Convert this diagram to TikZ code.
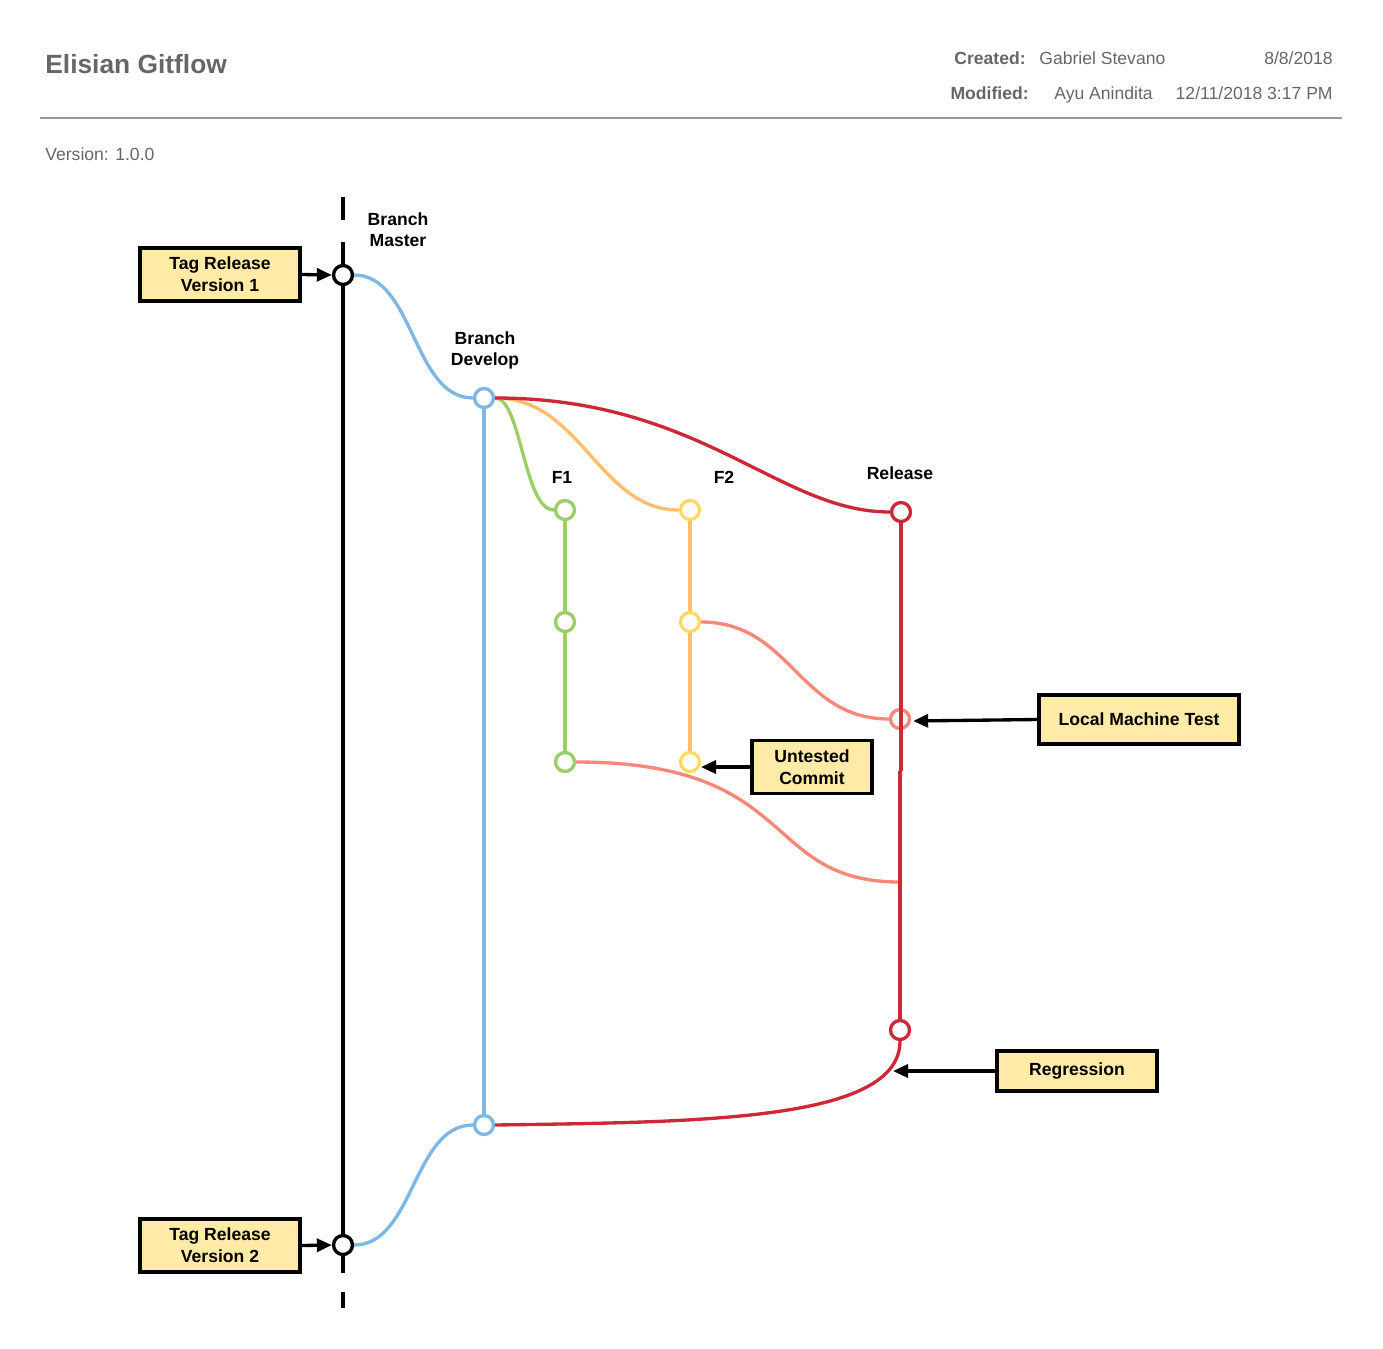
\documentclass[tikz,border=0pt]{standalone}
\usepackage{fontspec}
\setmainfont{Liberation Sans}
\usetikzlibrary{arrows.meta}
\definecolor{cblue}{RGB}{125,183,229}
\definecolor{cgreen}{RGB}{155,205,105}
\definecolor{cyel}{RGB}{255,217,102}
\definecolor{corange}{RGB}{255,190,110}
\definecolor{cred}{RGB}{204,40,55}
\definecolor{csalmon}{RGB}{250,135,120}
\definecolor{cbox}{RGB}{255,234,168}
\definecolor{cgray}{RGB}{102,102,102}
\definecolor{crule}{RGB}{153,153,153}
\tikzset{
  commit/.style={circle, draw=#1, line width=1.9pt, fill=white, inner sep=0pt, minimum size=0.38cm},
  tagbox/.style={rectangle, draw=black, line width=1.9pt, fill=cbox, align=center, font=\bfseries, inner sep=0pt},
  lbl/.style={align=center, font=\bfseries, inner sep=0pt},
  hdr/.style={text=cgray, inner sep=0pt},
  arr/.style={line width=1.9pt, -{Triangle[length=0.3cm,width=0.26cm]}},
  branchline/.style={line width=1.9pt, draw=#1},
}
\begin{document}
\begin{tikzpicture}[x=0.02cm, y=-0.02cm, every node/.style={font=\fontsize{10}{12.5}\selectfont}]
\useasboundingbox (0,0) rectangle (1383,1349);
% header
\node[hdr, anchor=base west, font=\fontsize{15}{18}\selectfont\bfseries] (title) at (45,73.5) {Elisian Gitflow};
\node[hdr, anchor=base east, font=\fontsize{10}{12}\selectfont\bfseries] (created) at (1026,64) {Created:};
\node[hdr, anchor=base west] (creator) at (1039,64) {Gabriel Stevano};
\node[hdr, anchor=base east] (cdate) at (1333,64) {8/8/2018};
\node[hdr, anchor=base east, font=\fontsize{10}{12}\selectfont\bfseries] (modified) at (1029,99) {Modified:};
\node[hdr, anchor=base west] (modifier) at (1054,99) {Ayu Anindita};
\node[hdr, anchor=base east] (mdate) at (1333,99) {12/11/2018 3:17 PM};
\coordinate (ruleL) at (40,118);
\coordinate (ruleR) at (1342,118);
\draw[crule, line width=1.3pt] (ruleL) -- (ruleR);
\node[hdr, anchor=base west] (version) at (45,160) {Version: 1.0.0};

% master line
\coordinate (mdA) at (343,197);
\coordinate (mdB) at (343,220);
\coordinate (msA) at (343,242);
\coordinate (msB) at (343,1273);
\coordinate (mdC) at (343,1292);
\coordinate (mdD) at (343,1308);
\draw[branchline=black] (mdA) -- (mdB);
\draw[branchline=black] (msA) -- (msB);
\draw[branchline=black] (mdC) -- (mdD);

% commits
\node[commit=black] (m1) at (343,275) {};
\node[commit=black] (m2) at (343,1245) {};
\node[commit=cblue] (d1) at (484,398) {};
\node[commit=cblue] (d2) at (484,1125) {};
\node[commit=cgreen] (f1a) at (565,510) {};
\node[commit=cgreen] (f1b) at (565,622) {};
\node[commit=cgreen] (f1c) at (565,762) {};
\node[commit=cyel] (f2a) at (690,510) {};
\node[commit=cyel] (f2b) at (690,622) {};
\node[commit=cyel] (f2c) at (690,762) {};
\node[commit=cred] (r1) at (901,512) {};
\node[commit=csalmon] (r2) at (900,719) {};
\node[commit=cred] (r3) at (900,1030) {};
\coordinate (rbreakA) at (901,771);
\coordinate (rbreakB) at (900,771);
\coordinate (rjoin) at (900,882);
\coordinate (regtip) at (893,1071);
\coordinate (uttip) at (701,767);

% labels
\node[lbl] (lmaster) at (398,230) {Branch\\Master};
\node[lbl] (ldevelop) at (485,350) {Branch\\Develop};
\node[lbl] (lf1) at (562,477) {F1};
\node[lbl] (lf2) at (724,477) {F2};
\node[lbl] (lrel) at (900,473) {Release};

% branch lines
\draw[branchline=cblue] (m1.east) .. controls +(60,0) and +(-60,0) .. (d1.west);
\draw[branchline=cblue] (m2.east) .. controls +(60,0) and +(-60,0) .. (d2.west);
\draw[branchline=cblue] (d1.south) -- (d2.north);
\draw[branchline=cgreen] (d1.east) .. controls +(26,0) and +(-30,0) .. (f1a.west);
\draw[branchline=cgreen] (f1a.south) -- (f1b.north);
\draw[branchline=cgreen] (f1b.south) -- (f1c.north);
\draw[branchline=corange] (d1.east) .. controls +(86,0) and +(-80,0) .. (f2a.west);
\draw[branchline=corange] (f2a.south) -- (f2b.north);
\draw[branchline=corange] (f2b.south) -- (f2c.north);
\draw[branchline=cred] (d1.east) .. controls +(206,0) and +(-111,0) .. (r1.west);
\draw[branchline=csalmon] (f2b.east) .. controls +(90,0) and +(-90,0) .. (r2.west);
\draw[branchline=csalmon] (f1c.east) .. controls +(225,0) and +(-140,0) .. (rjoin);
\draw[branchline=cred] (r1.south) -- (rbreakA);
\draw[branchline=cred] (rbreakB) -- (r3.north);
\draw[branchline=cred] (d2.east) .. controls +(206,-3) and +(0,80) .. (r3.south);

% annotation boxes
\node[tagbox, minimum width=3.2cm, minimum height=1.06cm] (t1) at (220,274.5) {Tag Release\\[0.5pt]Version 1};
\node[tagbox, minimum width=3.2cm, minimum height=1.06cm] (t2) at (220,1245.5) {Tag Release\\[0.5pt]Version 2};
\node[tagbox, minimum width=2.4cm, minimum height=1.06cm] (ut) at (812,767) {Untested\\[0.5pt]Commit};
\node[tagbox, minimum width=4cm, minimum height=0.98cm] (lmt) at (1139,719.5) {Local Machine Test};
\node[tagbox, minimum width=3.2cm, minimum height=0.8cm] (reg) at (1077,1071) {Regression};

% arrows
\draw[arr] (t1.east) -- (m1.west);
\draw[arr] (t2.east) -- (m2.west);
\draw[arr] (ut.west) -- (uttip);
\draw[arr] (lmt.west) -- ([xshift=0.04cm,yshift=-0.04cm]r2.east);
\draw[arr] (reg.west) -- (regtip);
\end{tikzpicture}
\end{document}
